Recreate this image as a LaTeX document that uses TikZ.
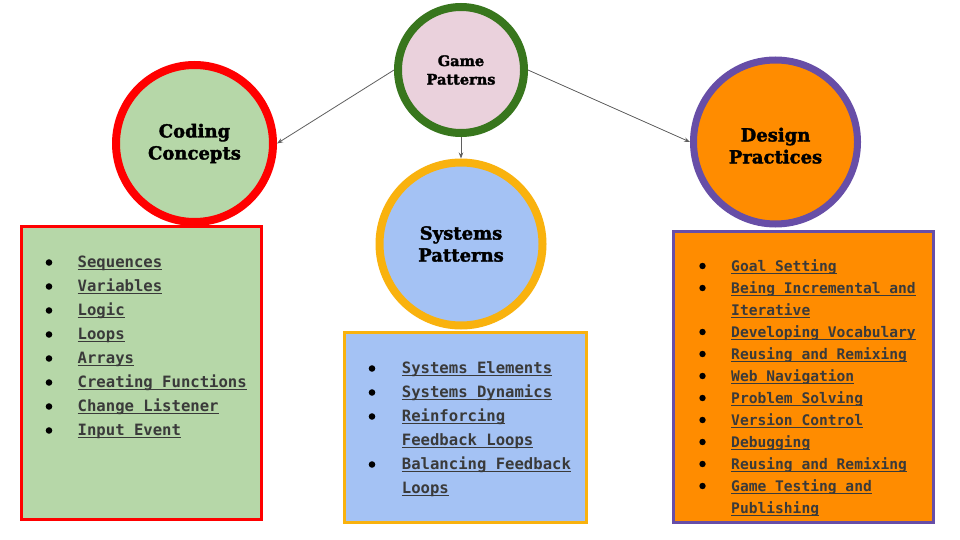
\documentclass[tikz,border=0pt]{standalone}
\usepackage{fontspec}
\usetikzlibrary{arrows.meta}

\newfontfamily\headfont[FakeBold=2]{DejaVu Serif Bold}
\newfontfamily\itemfont{DejaVu Sans Mono}

% link-style underline at a fixed depth below the baseline
\newcommand\linkul[1]{\setbox0\hbox{#1}\rlap{\rule[-2.6pt]{\wd0}{1.1pt}}\box0}

\definecolor{gpBorder}{HTML}{38761D}
\definecolor{gpFill}{HTML}{EAD1DC}
\definecolor{ccBorder}{HTML}{FF0000}
\definecolor{ccFill}{HTML}{B6D7A8}
\definecolor{spBorder}{HTML}{F9B20E}
\definecolor{spFill}{HTML}{A4C2F4}
\definecolor{dpBorder}{HTML}{674EA7}
\definecolor{dpFill}{HTML}{FF8C00}
\definecolor{linkText}{HTML}{3A3A3A}
\definecolor{connector}{HTML}{5F5F5F}

\tikzset{
  topic/.style={circle, inner sep=0pt, align=center, text=black,
    font=\headfont\fontsize{18}{22}\selectfont},
  listbox/.style={line width=3pt},
  listitem/.style={anchor=base west, inner sep=0pt, text=linkText},
  dot/.style={fill=black},
  link/.style={draw=connector, line width=0.8pt,
    -{Stealth[length=6pt,width=4.5pt]}}
}

\begin{document}
\begin{tikzpicture}[x=1pt,y=-1pt]
\useasboundingbox (0,0) rectangle (960,540);
\fill[white] (0,0) rectangle (960,540);

% topic circles
\node[topic, draw=gpBorder, fill=gpFill, line width=8pt, minimum size=126pt,
      font=\headfont\fontsize{14.5}{18.5}\selectfont]
  (game) at (461,70) {Game\\Patterns};
\node[topic, draw=ccBorder, fill=ccFill, line width=8pt, minimum size=157pt]
  (coding) at (194.5,143.5) {Coding\\Concepts};
\node[topic, draw=spBorder, fill=spFill, line width=8pt, minimum size=163pt]
  (systems) at (461,244) {Systems\\Patterns};
% the strut lowers the two text lines a little inside the circle
\node[topic, draw=dpBorder, fill=dpFill, line width=7pt, minimum size=164pt]
  (design) at (775.5,142) {\rule{0pt}{21pt}Design\\Practices};

% connectors
\draw[link] (game.west) -- (coding.east);
\draw[link] (game.east) -- (design.west);
\draw[link] (game.south) -- (systems.north);

% list panels
\draw[listbox, draw=ccBorder, fill=ccFill] (21.5,226.5) rectangle (261,519);
\draw[listbox, draw=spBorder, fill=spFill] (344.5,332) rectangle (586,522);
\draw[listbox, draw=dpBorder, fill=dpFill] (673.5,231) rectangle (933,522);

% coding concepts list
\begin{scope}[font=\itemfont\bfseries\fontsize{15.6}{20}\selectfont]
\foreach \t [count=\i] in {Sequences, Variables, Logic, Loops, Arrays,
    Creating Functions, Change Listener, Input Event} {
  \fill[dot] (49,{262.5+24*(\i-1)}) circle (3.3);
  \node[listitem] (cc\i) at (77.5,{267.5+24*(\i-1)}) {\linkul{\t}};
}
\end{scope}

% systems patterns list
\begin{scope}[font=\itemfont\bfseries\fontsize{15.6}{20}\selectfont]
\foreach \t/\b [count=\i] in {Systems Elements/1, Systems Dynamics/1,
    Reinforcing/1, Feedback Loops/0, Balancing Feedback/1, Loops/0} {
  \ifnum\b=1 \fill[dot] (372,{368.5+24*(\i-1)}) circle (3.3); \fi
  \node[listitem] (sp\i) at (401.7,{373.5+24*(\i-1)}) {\linkul{\t}};
}
\end{scope}

% design practices list
\begin{scope}[font=\itemfont\bfseries\fontsize{14.6}{19}\selectfont]
\foreach \t/\b [count=\i] in {Goal Setting/1, Being Incremental and/1,
    Iterative/0, Developing Vocabulary/1, Reusing and Remixing/1,
    Web Navigation/1, Problem Solving/1, Version Control/1, Debugging/1,
    Reusing and Remixing/1, Game Testing and/1, Publishing/0} {
  \ifnum\b=1 \fill[dot] (702.5,{266+22*(\i-1)}) circle (3.2); \fi
  \node[listitem] (dp\i) at (731,{271+22*(\i-1)}) {\linkul{\t}};
}
\end{scope}
\end{tikzpicture}
\end{document}
